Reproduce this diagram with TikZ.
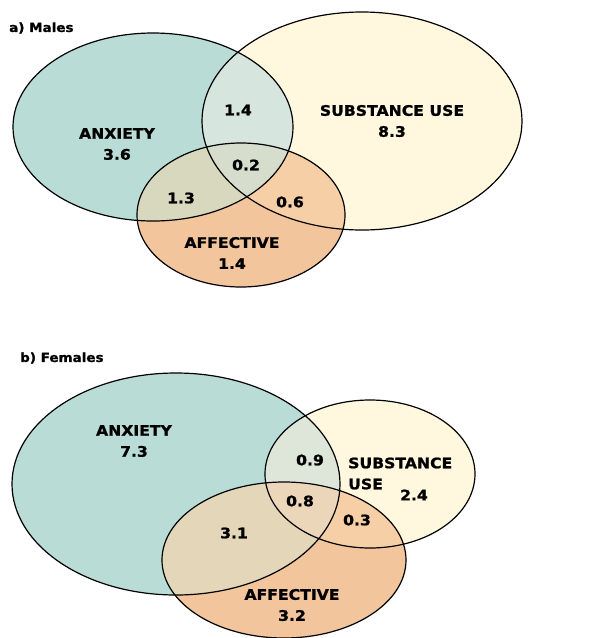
\documentclass[tikz,border=0pt]{standalone}
\usepackage{fontspec}
\setmainfont{DejaVu Sans}
\newfontfamily\labfont[FakeStretch=1.08, FakeBold=1.2]{DejaVu Sans Bold}
\definecolor{cA}{RGB}{185,221,214}
\definecolor{cS}{RGB}{255,248,222}
\definecolor{cF}{RGB}{243,197,156}
\definecolor{cAS}{RGB}{214,230,222}
\definecolor{cAF}{RGB}{215,216,190}
\definecolor{cSF}{RGB}{246,207,166}
\definecolor{cASF}{RGB}{214,221,204}
\definecolor{fAF}{RGB}{228,214,184}
\definecolor{fASF}{RGB}{236,214,186}
\definecolor{fAS}{RGB}{222,230,218}
\begin{document}
\begin{tikzpicture}[x=1pt,y=-1pt,
  lab/.style={font=\labfont\fontsize{14.5}{21}\selectfont, align=center, inner sep=0pt},
  ttl/.style={font=\labfont\fontsize{12.5}{14}\selectfont, anchor=west, inner sep=0pt},
  outline/.style={draw=black, line width=1.2pt}]
\useasboundingbox (0,0) rectangle (590,638);
% ---------- a) Males ----------
\def\MA{(153,127) ellipse [x radius=140pt, y radius=94pt]}
\def\MS{(362,121) ellipse [x radius=160pt, y radius=109pt]}
\def\MF{(241,215) ellipse [x radius=104pt, y radius=72pt]}
\fill[cS] \MS;
\fill[cA] \MA;
\fill[cF] \MF;
\begin{scope}\clip \MA; \fill[cAS] \MS; \end{scope}
\begin{scope}\clip \MA; \fill[cAF] \MF; \end{scope}
\begin{scope}\clip \MS; \fill[cSF] \MF; \end{scope}
\begin{scope}\clip \MA; \clip \MS; \fill[cASF] \MF; \end{scope}
\draw[outline] \MA;
\draw[outline] \MS;
\draw[outline] \MF;
\node[ttl] (tm) at (9,28) {a) Males};
\node[lab] (ma) at (117,144) {ANXIETY\\3.6};
\node[lab] (ms) at (392,121) {SUBSTANCE USE\\8.3};
\node[lab] (mf) at (232,253) {AFFECTIVE\\1.4};
\node[lab] (mas) at (238,110) {1.4};
\node[lab] (masf) at (246,165) {0.2};
\node[lab] (maf) at (181,198) {1.3};
\node[lab] (msf) at (290,202) {0.6};
% ---------- b) Females ----------
\def\FA{(176,484) ellipse [x radius=164pt, y radius=111pt]}
\def\FS{(370,474) ellipse [x radius=105pt, y radius=74pt]}
\def\FF{(284,560) ellipse [x radius=122pt, y radius=78pt]}
\fill[cS] \FS;
\fill[cA] \FA;
\fill[cF] \FF;
\begin{scope}\clip \FA; \fill[fAS] \FS; \end{scope}
\begin{scope}\clip \FA; \fill[fAF] \FF; \end{scope}
\begin{scope}\clip \FS; \fill[cSF] \FF; \end{scope}
\begin{scope}\clip \FA; \clip \FS; \fill[fASF] \FF; \end{scope}
\draw[outline] \FA;
\draw[outline] \FS;
\draw[outline] \FF;
\node[ttl] (tf) at (20,358) {b) Females};
\node[lab] (fa) at (134,441) {ANXIETY\\7.3};
\node[lab, anchor=west] (fs) at (348,463) {SUBSTANCE};
\node[lab, anchor=west] (fu) at (348,484) {USE};
\node[lab] (fsn) at (414,495) {2.4};
\node[lab] (fas) at (310,460) {0.9};
\node[lab] (fasf) at (300,501) {0.8};
\node[lab] (fsf) at (357,520) {0.3};
\node[lab] (faf) at (234,533) {3.1};
\node[lab] (ff) at (292,605) {AFFECTIVE\\3.2};
\end{tikzpicture}
\end{document}
